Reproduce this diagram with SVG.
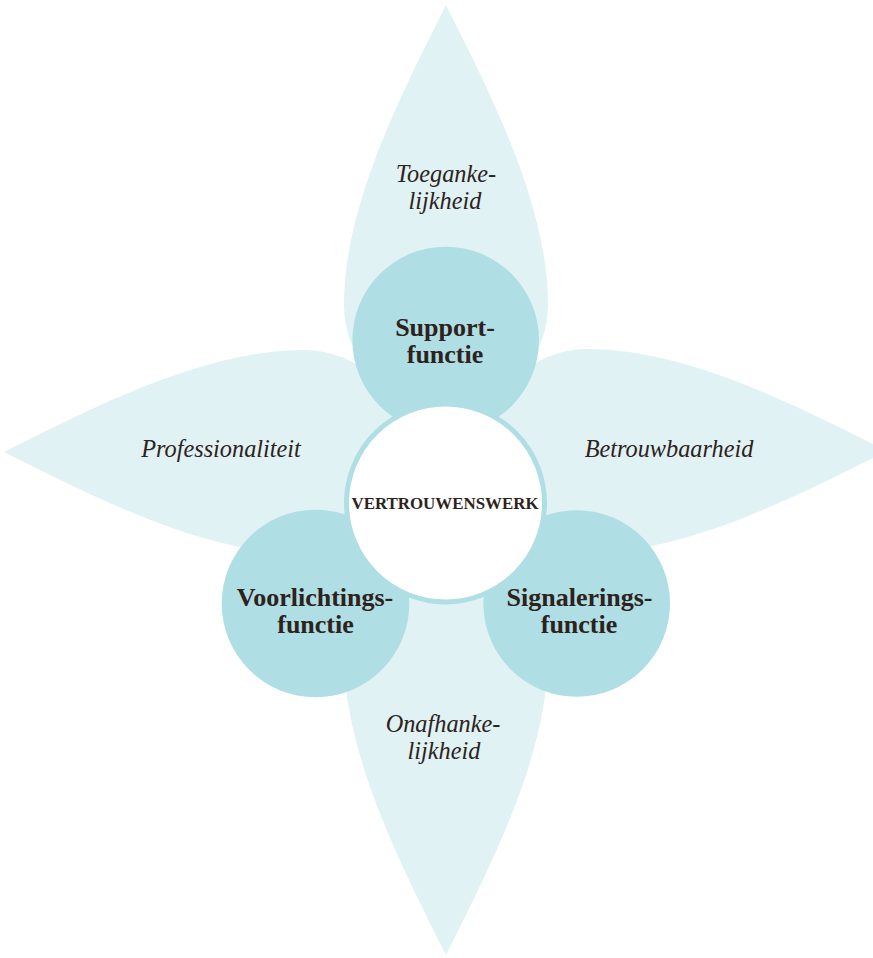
<svg xmlns="http://www.w3.org/2000/svg" width="873" height="958" viewBox="0 0 873 958">
  <defs>
    <style>
      .petal { fill: #e0f2f4; }
      .func { fill: #afdee4; }
      .core { fill: #ffffff; stroke: #afdee4; stroke-width: 5; }
      text { font-family: "Liberation Serif", "DejaVu Serif", serif; fill: #2d221c; text-anchor: middle; }
      .value { font-style: italic; font-size: 24.3px; }
      .role { font-weight: bold; font-size: 26px; }
      .title { font-weight: bold; font-size: 16.9px; }
    </style>
    <!-- leaf shape: pointed tip at the origin, rounded end along +x -->
    <path id="leaf" d="M0,0 C90,-45 200,-102 300,-102 A102,102 0 0 1 300,102 C200,102 90,45 0,0 Z"/>
  </defs>

  <rect width="873" height="958" fill="#ffffff"/>

  <!-- petals with the core values -->
  <g id="petal-top">
    <use href="#leaf" class="petal" transform="translate(446,5) rotate(90)"/>
    <text class="value" x="446" y="182">Toeganke-</text>
    <text class="value" x="445" y="209">lijkheid</text>
  </g>
  <g id="petal-left">
    <use href="#leaf" class="petal" transform="translate(4,452)"/>
    <text class="value" x="221" y="457">Professionaliteit</text>
  </g>
  <g id="petal-right">
    <use href="#leaf" class="petal" transform="translate(887,451) rotate(180)"/>
    <text class="value" x="669" y="457">Betrouwbaarheid</text>
  </g>
  <g id="petal-bottom">
    <use href="#leaf" class="petal" transform="translate(446,955) rotate(-90)"/>
    <text class="value" x="443" y="732">Onafhanke-</text>
    <text class="value" x="444" y="759">lijkheid</text>
  </g>

  <!-- the three functions -->
  <g id="support">
    <circle class="func" cx="445.7" cy="340" r="93.3"/>
    <text class="role" x="445" y="336">Support-</text>
    <text class="role" x="445" y="363">functie</text>
  </g>
  <g id="voorlichting">
    <circle class="func" cx="315.5" cy="603.5" r="93.8"/>
    <text class="role" x="315" y="606">Voorlichtings-</text>
    <text class="role" x="315.5" y="633">functie</text>
  </g>
  <g id="signalering">
    <circle class="func" cx="576.7" cy="603.5" r="93.3"/>
    <text class="role" x="579.5" y="606">Signalerings-</text>
    <text class="role" x="579" y="633">functie</text>
  </g>

  <!-- centre -->
  <g id="vertrouwenswerk">
    <circle class="core" cx="445.5" cy="503" r="99"/>
    <text class="title" x="445" y="509">VERTROUWENSWERK</text>
  </g>

  <g id="connectors"/>
</svg>
